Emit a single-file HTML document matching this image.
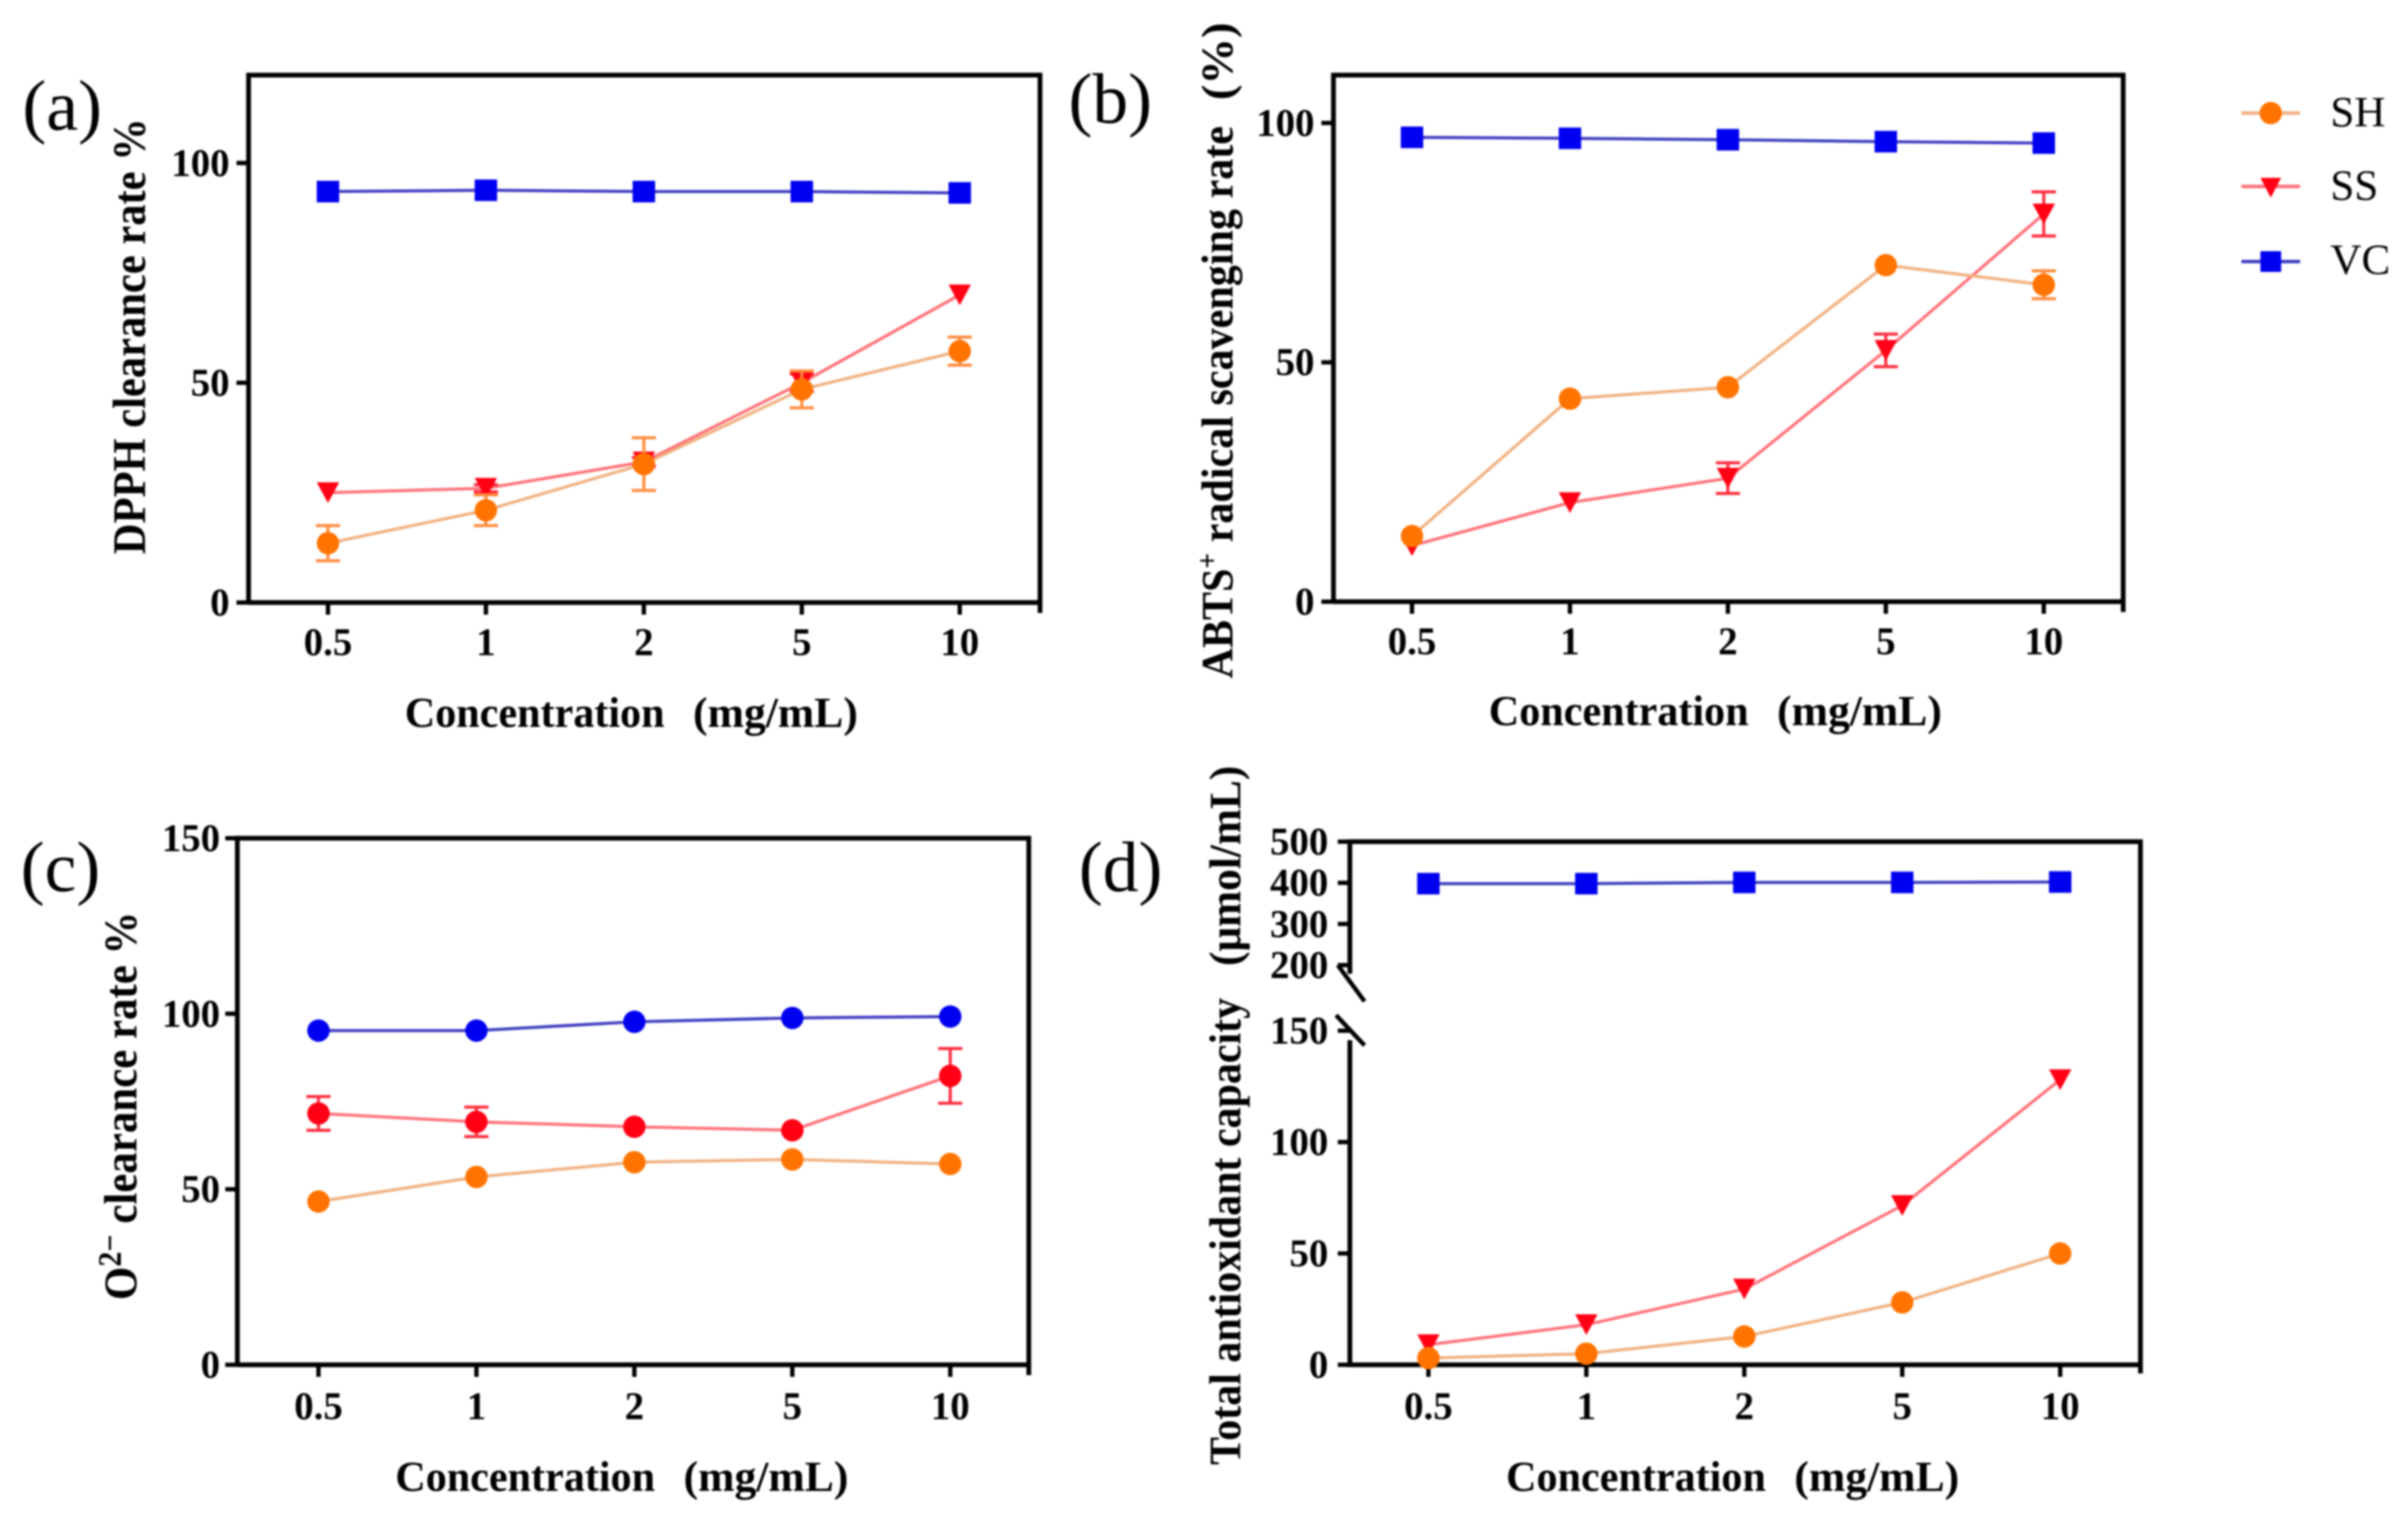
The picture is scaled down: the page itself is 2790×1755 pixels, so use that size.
<!DOCTYPE html>
<html lang="en">
<head>
<meta charset="utf-8">
<title>Antioxidant activity charts</title>
<style>
html,body{margin:0;padding:0;background:#fff;}
svg{display:block;filter:blur(1.1px);}
text{font-family:"Liberation Serif","Noto Serif CJK SC",serif;fill:#000;}
.b{font-weight:bold;}
</style>
</head>
<body>
<svg id="fig" xmlns="http://www.w3.org/2000/svg" width="2790" height="1755" viewBox="0 0 2790 1755">
  <rect x="0" y="0" width="2790" height="1755" fill="#fff"/>

  <text x="26" y="150" font-size="83">(a)</text>
  <text x="1238" y="142" font-size="83">(b)</text>
  <text x="24" y="1032" font-size="83">(c)</text>
  <text x="1250" y="1032" font-size="83">(d)</text>

  <text class="b" transform="translate(168,642) rotate(-90)" font-size="54" textLength="505" lengthAdjust="spacingAndGlyphs">DPPH clearance rate %</text>

  <g transform="translate(1428,786) rotate(-90)">
    <text class="b" x="0" y="0" font-size="52" textLength="640" lengthAdjust="spacingAndGlyphs">ABTS<tspan dy="-18" font-size="34">+</tspan><tspan dy="18"> radical scavenging rate</tspan></text>
    <text class="b" x="670" y="0" font-size="52" textLength="90" lengthAdjust="spacingAndGlyphs">(%)</text>
  </g>

  <text class="b" transform="translate(158,1506) rotate(-90)" font-size="54" textLength="450" lengthAdjust="spacingAndGlyphs">O<tspan dy="-18" font-size="38">2−</tspan><tspan dy="18"> clearance rate %</tspan></text>

  <g transform="translate(1437,1697) rotate(-90)">
    <text class="b" x="0" y="0" font-size="52" textLength="541" lengthAdjust="spacingAndGlyphs">Total antioxidant capacity</text>
    <text class="b" x="578" y="0" font-size="52" textLength="232" lengthAdjust="spacingAndGlyphs">(μmol/mL)</text>
  </g>

  <text class="b" y="842" font-size="50"><tspan x="469" textLength="301" lengthAdjust="spacingAndGlyphs">Concentration</tspan><tspan x="803" textLength="191" lengthAdjust="spacingAndGlyphs">(mg/mL)</tspan></text>
  <text class="b" y="840" font-size="50"><tspan x="1725" textLength="301" lengthAdjust="spacingAndGlyphs">Concentration</tspan><tspan x="2059" textLength="191" lengthAdjust="spacingAndGlyphs">(mg/mL)</tspan></text>
  <text class="b" y="1727" font-size="50"><tspan x="458" textLength="301" lengthAdjust="spacingAndGlyphs">Concentration</tspan><tspan x="792" textLength="191" lengthAdjust="spacingAndGlyphs">(mg/mL)</tspan></text>
  <text class="b" y="1727" font-size="50"><tspan x="1745" textLength="301" lengthAdjust="spacingAndGlyphs">Concentration</tspan><tspan x="2079" textLength="191" lengthAdjust="spacingAndGlyphs">(mg/mL)</tspan></text>

  <g>
    <g>
      <line x1="2597" x2="2665" y1="131" y2="131" stroke="#f0b080" stroke-width="4"/>
      <circle cx="2631" cy="131" r="13" fill="#ff7300"/>
      <text x="2700" y="146" font-size="50">SH</text>
    </g>
    <g>
      <line x1="2597" x2="2665" y1="216" y2="216" stroke="#ff7078" stroke-width="4"/>
      <polygon points="2619,206 2643,206 2631,229" fill="#ff0014"/>
      <text x="2700" y="231" font-size="50">SS</text>
    </g>
    <g>
      <line x1="2597" x2="2665" y1="303" y2="303" stroke="#3c3cc0" stroke-width="4"/>
      <rect x="2619" y="291" width="24" height="24" fill="#0000f0"/>
      <text x="2700" y="317" font-size="50">VC</text>
    </g>
  </g>
</svg>

<script>
const categories = ['0.5', '1', '2', '5', '10'];

const aTicks = [0, 50, 100];
const aSH = [13.5, 21, 31.5, 48.5, 57.2];
const aSHErr = [4, 3.5, 6, 4.2, 3.2];
const aSS = [25, 26, 32, 50, 70];
const aSSErr = [0, 0.8, 1, 2, 0];
const aVC = [93.5, 93.8, 93.5, 93.5, 93.2];

const bTicks = [0, 50, 100];
const bSH = [13.7, 42.4, 44.8, 70.3, 66.2];
const bSHErr = [0, 0, 0, 0, 2.9];
const bSS = [11.7, 20.7, 25.8, 52.5, 81];
const bSSErr = [0, 0, 3.2, 3.4, 4.6];
const bVC = [97, 96.8, 96.5, 96.1, 95.8];

const cTicks = [0, 50, 100, 150];
const cSH = [46.5, 53.5, 57.7, 58.5, 57.2];
const cSHErr = [0, 0, 0, 0, 0];
const cSS = [71.6, 69.2, 67.8, 66.8, 82.3];
const cSSErr = [4.8, 4.2, 0, 0, 7.8];
const cVC = [95.2, 95.2, 97.7, 98.8, 99.2];

const dTicksLower = [0, 50, 100, 150];
const dTicksUpper = [200, 300, 400, 500];
const dSH = [3, 5, 12.7, 28, 50];
const dSHErr = [0, 0, 0, 0, 0];
const dSS = [9, 18, 34, 71.5, 128];
const dSSErr = [0, 0, 0, 0, 0];
const dVC = [398, 398, 401, 401, 402];

const NS = 'http://www.w3.org/2000/svg';
const fig = document.getElementById('fig');
const SH_COLOR = { line: '#f0b080', mark: '#ff7300', err: '#ff8a3c' };
const SS_COLOR = { line: '#ff7078', mark: '#ff0014', err: '#ff2a3c' };
const VC_COLOR = { line: '#3c3cc0', mark: '#0000f0', err: '#0000f0' };

function make(tag, attrs, parent) {
  const el = document.createElementNS(NS, tag);
  for (const k in attrs) el.setAttribute(k, attrs[k]);
  parent.appendChild(el);
  return el;
}

function linearY(domainMax, bottom, top) {
  return v => bottom - (v / domainMax) * (bottom - top);
}

function brokenY(v) {
  if (v <= 150) return 1581 - (v / 150) * (1581 - 1194);
  return 1118 - ((v - 200) / 300) * (1118 - 975);
}

function drawTicks(g, panel, ticks, yScale) {
  ticks.forEach(t => {
    const y = yScale(t);
    const tick = make('line', { x1: panel.left - 14, x2: panel.left, y1: y, y2: y, stroke: '#000', 'stroke-width': 5 }, g);
    
    
    const label = make('text', { x: panel.yLabelRight, y: y + 15, 'text-anchor': 'end', 'font-size': 45, 'font-weight': 'bold' }, g);
    
    
    label.textContent = t;
  });
}

function drawSeries(g, panel, name, values, errors, yScale, color, shape) {
  const xScale = panel.xScale;
  const series = make('g', {}, g);
  
  
  const line = make('polyline', {
    points: values.map((v, i) => xScale(i) + ',' + yScale(v)).join(' '),
    fill: 'none', stroke: color.line, 'stroke-width': 3.5
  }, series);
  
  
  values.forEach((v, i) => {
    const x = xScale(i), y = yScale(v);
    if (errors && errors[i] > 0) {
      const hi = yScale(v + errors[i]), lo = yScale(v - errors[i]);
      const err = make('path', {
        d: 'M' + (x - 14) + ' ' + hi + 'H' + (x + 14) + 'M' + x + ' ' + hi + 'V' + lo + 'M' + (x - 14) + ' ' + lo + 'H' + (x + 14),
        fill: 'none', stroke: color.err, 'stroke-width': 3.5
      }, series);
      
      
    }
    let mark;
    if (shape === 'circle') {
      mark = make('circle', { cx: x, cy: y, r: 13, fill: color.mark }, series);
    } else if (shape === 'square') {
      mark = make('rect', { x: x - 13, y: y - 12.5, width: 26, height: 25, fill: color.mark }, series);
    } else {
      mark = make('polygon', { points: (x - 13) + ',' + (y - 12) + ' ' + (x + 13) + ',' + (y - 12) + ' ' + x + ',' + (y + 12), fill: color.mark }, series);
    }
    
    
  });
}

function drawFrame(g, panel) {
  const frame = make('path', {
    d: panel.broken
      ? 'M' + panel.left + ' 1128V' + panel.top + 'H' + panel.right + 'V' + (panel.bottom + 10) +
        'M' + (panel.right + 2) + ' ' + panel.bottom + 'H' + panel.left + 'V1205'
      : 'M' + panel.left + ' ' + (panel.bottom + 2) + 'V' + panel.top + 'H' + panel.right + 'V' + (panel.bottom + 12) +
        'M' + (panel.right + 2) + ' ' + panel.bottom + 'H' + panel.left,
    fill: 'none', stroke: '#000', 'stroke-width': 5.5
  }, g);
  
  
  categories.forEach((c, i) => {
    const x = panel.xScale(i);
    const tick = make('line', { x1: x, x2: x, y1: panel.bottom, y2: panel.bottom + 14, stroke: '#000', 'stroke-width': 5 }, g);
    
    
    const label = make('text', { x: x, y: panel.xLabelY, 'text-anchor': 'middle', 'font-size': 45, 'font-weight': 'bold' }, g);
    
    
    label.textContent = c;
  });
}

function drawPanel(panel, ticks, yScale, sh, shErr, ss, ssErr, vc, shapes) {
  const g = make('g', {}, fig);
  
  
  drawFrame(g, panel);
  drawTicks(g, panel, ticks, yScale);
  drawSeries(g, panel, 'vc', vc, null, yScale, VC_COLOR, shapes[2]);
  drawSeries(g, panel, 'ss', ss, ssErr, yScale, SS_COLOR, shapes[1]);
  drawSeries(g, panel, 'sh', sh, shErr, yScale, SH_COLOR, shapes[0]);
  return g;
}

const stdShapes = ['circle', 'triangle', 'square'];

drawPanel(
  { id: 'a', left: 288, right: 1205, top: 87, bottom: 698, yLabelRight: 266, xLabelY: 759, xScale: i => 380 + i * 183 },
  aTicks, linearY(120, 698, 87), aSH, aSHErr, aSS, aSSErr, aVC, stdShapes
);
drawPanel(
  { id: 'b', left: 1545, right: 2460, top: 87, bottom: 697, yLabelRight: 1523, xLabelY: 758, xScale: i => 1636 + i * 183 },
  bTicks, linearY(110, 697, 87), bSH, bSHErr, bSS, bSSErr, bVC, stdShapes
);
drawPanel(
  { id: 'c', left: 275, right: 1192, top: 971, bottom: 1581, yLabelRight: 255, xLabelY: 1644, xScale: i => 369 + i * 183 },
  cTicks, linearY(150, 1581, 971), cSH, cSHErr, cSS, cSSErr, cVC, ['circle', 'circle', 'circle']
);
const panelD = drawPanel(
  { id: 'd', left: 1564, right: 2480, top: 975, bottom: 1581, yLabelRight: 1539, xLabelY: 1644, broken: true, xScale: i => 1655 + i * 183 },
  dTicksLower.concat(dTicksUpper), brokenY, dSH, dSHErr, dSS, dSSErr, dVC, stdShapes
);
const breakMarks = make('path', {
  d: 'M1550 1118L1581 1160M1548 1176L1581 1211',
  fill: 'none', stroke: '#000', 'stroke-width': 5
}, panelD);


</script>
</body>
</html>
